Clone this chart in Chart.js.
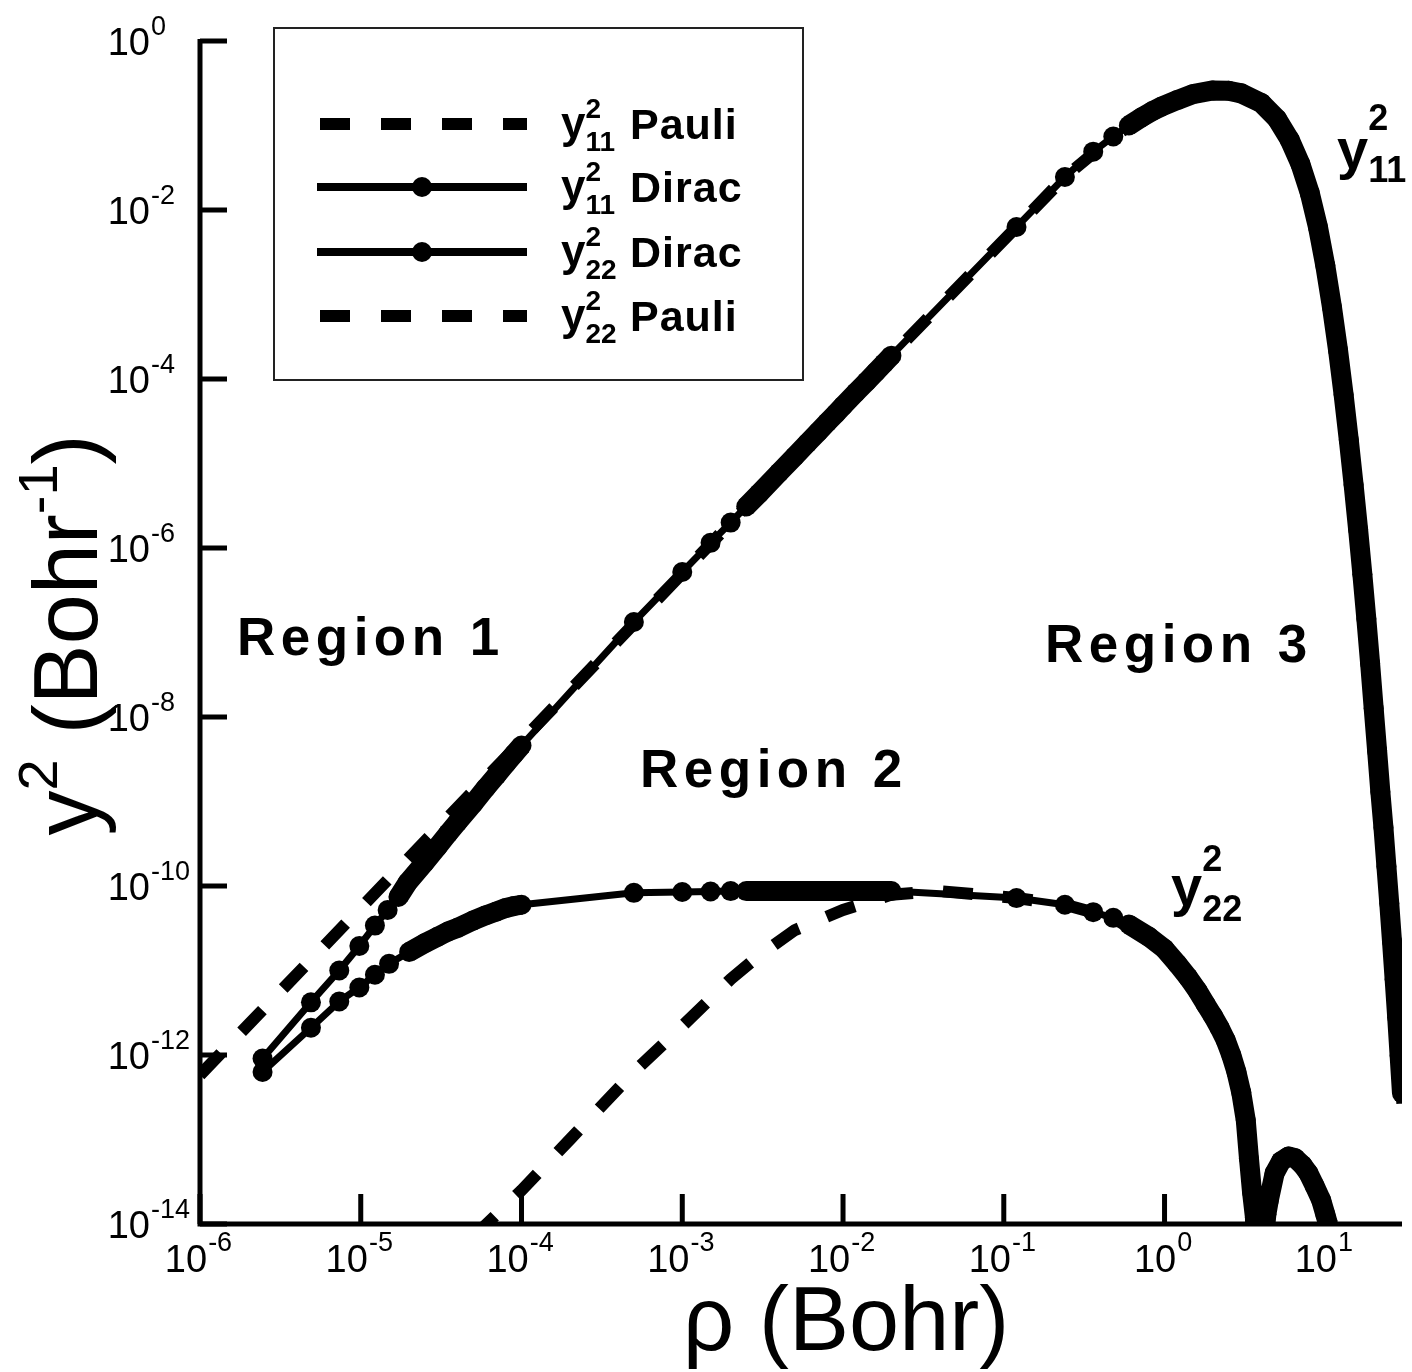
<!DOCTYPE html>
<html>
<head>
<meta charset="utf-8">
<script src="https://cdn.jsdelivr.net/npm/chart.js@4.4.0/dist/chart.umd.min.js"></script>
<style>
  body { margin: 0; background: #fff; }
  canvas { display: block; }
</style>
</head>
<body>
<canvas id="chart" width="1412" height="1372"></canvas>
<script>
// y11 Pauli (dashed)
const rho11Pauli = [1e-6, 1e-5, 1e-4, 1e-3, 1e-2, 0.12, 0.24, 0.48, 0.96, 2, 3, 5, 7, 10, 14, 20, 25, 31];
const val11Pauli = [5.8e-13, 5.5e-11, 5.2e-9, 5.0e-7, 4.9e-5, 6.3e-3, 2.46e-2, 7.4e-2, 0.168, 0.26, 0.24, 0.12, 0.035, 2.2e-3, 1.9e-5, 1.26e-8, 6.2e-11, 1.2e-13];

// y11 Dirac (line + markers)
const rho11Dirac = [2.45e-6, 4.9e-6, 7.35e-6, 9.8e-6, 1.225e-5, 1.47e-5, 1.715e-5, 1.96e-5, 2.5e-5, 3e-5, 3.5e-5, 4e-5, 5e-5, 6e-5, 7e-5, 8e-5, 9e-5, 1e-4,
  5e-4, 1e-3, 1.5e-3, 2e-3, 2.5e-3, 3e-3, 4e-3, 5e-3, 6e-3, 7e-3, 8e-3, 9e-3, 1e-2, 1.2e-2, 1.4e-2, 1.6e-2, 1.8e-2, 2e-2,
  0.12, 0.24, 0.36, 0.48, 0.6, 0.72, 0.84, 0.96, 1.2, 1.5, 2, 2.5, 3, 4, 5, 6, 7, 8, 9, 10,
  11, 12, 13, 14, 15, 16, 17, 18, 19, 20, 21, 22, 23, 24, 25, 26, 27, 28, 29, 30, 31];
const val11Dirac = [9.1e-13, 4.2e-12, 1.0e-11, 1.95e-11, 3.4e-11, 5.2e-11, 7.4e-11, 1.1e-10, 1.9e-10, 2.9e-10, 4.2e-10, 5.7e-10, 9.4e-10, 1.45e-9, 2.05e-9, 2.8e-9, 3.65e-9, 4.6e-9,
  1.33e-7, 5.2e-7, 1.15e-6, 2.0e-6, 3.1e-6, 4.4e-6, 7.8e-6, 1.21e-5, 1.74e-5, 2.36e-5, 3.08e-5, 3.88e-5, 4.8e-5, 6.9e-5, 9.3e-5, 1.21e-4, 1.53e-4, 1.89e-4,
  6.3e-3, 2.46e-2, 4.9e-2, 7.4e-2, 0.100, 0.125, 0.148, 0.168, 0.200, 0.235, 0.26, 0.258, 0.24, 0.185, 0.12, 0.068, 0.035, 0.016, 6.3e-3, 2.2e-3,
  7.1e-4, 2.2e-4, 6.5e-5, 1.9e-5, 5.6e-6, 1.66e-6, 4.9e-7, 1.45e-7, 4.3e-8, 1.26e-8, 4.0e-9, 1.3e-9, 4.9e-10, 1.7e-10, 6.2e-11, 2.2e-11, 7.8e-12, 2.8e-12, 9.8e-13, 3.5e-13, 1.2e-13];

// y22 Dirac (line + markers)
const rho22Dirac = [2.45e-6, 4.9e-6, 7.35e-6, 9.8e-6, 1.225e-5, 1.5e-5, 2e-5, 2.5e-5, 3e-5, 3.5e-5, 4e-5, 5e-5, 6e-5, 7e-5, 8e-5, 9e-5, 1e-4,
  5e-4, 1e-3, 1.5e-3, 2e-3, 2.5e-3, 3e-3, 4e-3, 5e-3, 6e-3, 7e-3, 8e-3, 9e-3, 1e-2, 1.2e-2, 1.4e-2, 1.6e-2, 1.8e-2, 2e-2,
  0.12, 0.24, 0.36, 0.48, 0.6, 0.8, 1.0, 1.2, 1.4, 1.6, 1.8, 2.0, 2.2, 2.4, 2.6, 2.8, 3.0, 3.2, 3.35, 3.5, 3.65, 3.85,
  4.1, 4.3, 4.45, 4.84, 5.3, 5.9, 6.5, 7.2, 7.85, 8.6, 9.44, 10.0, 10.4];
const val22Dirac = [6.3e-13, 2.1e-12, 4.3e-12, 6.3e-12, 8.9e-12, 1.2e-11, 1.66e-11, 2.1e-11, 2.5e-11, 2.9e-11, 3.2e-11, 3.9e-11, 4.5e-11, 5.0e-11, 5.5e-11, 5.8e-11, 6.0e-11,
  8.3e-11, 8.5e-11, 8.6e-11, 8.7e-11, 8.7e-11, 8.7e-11, 8.7e-11, 8.7e-11, 8.7e-11, 8.7e-11, 8.7e-11, 8.7e-11, 8.7e-11, 8.7e-11, 8.7e-11, 8.7e-11, 8.7e-11, 8.7e-11,
  7.2e-11, 6.0e-11, 4.9e-11, 4.2e-11, 3.5e-11, 2.5e-11, 1.8e-11, 1.2e-11, 8.3e-12, 5.8e-12, 4.0e-12, 2.9e-12, 2.1e-12, 1.5e-12, 1.0e-12, 6.3e-13, 3.6e-13, 1.7e-13, 6e-14, 2.4e-14, 1.2e-14, 1e-16,
  5e-15, 1.3e-14, 1.9e-14, 4.0e-14, 5.5e-14, 6.3e-14, 6.0e-14, 5.0e-14, 4.0e-14, 2.8e-14, 1.9e-14, 1.3e-14, 1.0e-14];

// y22 Pauli (dashed)
const rho22Pauli = [5e-5, 1e-4, 2e-4, 5e-4, 1e-3, 2e-3, 3e-3, 5e-3, 1e-2, 2e-2, 4e-2, 0.12, 0.24, 0.48, 1.0, 1.6, 2.2, 2.8, 3.2, 3.5];
const val22Pauli = [7e-15, 2.5e-14, 1e-13, 6.3e-13, 2.2e-12, 7.9e-12, 1.5e-11, 3.0e-11, 5.2e-11, 7.9e-11, 8.7e-11, 7.2e-11, 6.0e-11, 4.2e-11, 1.8e-11, 5.8e-12, 2.1e-12, 6.3e-13, 1.6e-13, 1.9e-14];

// Axis decades
const xTickExps = [-6, -5, -4, -3, -2, -1, 0, 1];
const yTickExps = [0, -2, -4, -6, -8, -10, -12, -14];

// rho ranges where the Dirac markers sit so close they merge into a thick band
const denseRanges = [[1.7e-5, 1.01e-4], [2.4e-3, 2.01e-2], [0.59, 40]];

// Legend rows (in dataset order)
const legendSubs = ['11', '11', '22', '22'];
const legendWords = ['Pauli', 'Dirac', 'Dirac', 'Pauli'];

const FONT = "'Liberation Sans', Arial, Helvetica, sans-serif";

function toPoints(xs, ys) {
    return xs.map((v, i) => ({ x: v, y: ys[i] }));
}

function denseWidth(ctx) {
    const a = ctx.p0.parsed.x, b = ctx.p1.parsed.x;
    return denseRanges.some(r => a >= r[0] && b <= r[1]) ? 20 : undefined;
}

// Draws "y" with a stacked superscript 2 and a subscript index
function drawY(ctx, x, base, sub, big, small, supBase, subBase) {
    ctx.textAlign = 'left';
    ctx.textBaseline = 'alphabetic';
    ctx.font = `bold ${big}px ${FONT}`;
    ctx.fillText('y', x, base);
    const sx = x + ctx.measureText('y').width;
    ctx.font = `bold ${small}px ${FONT}`;
    ctx.fillText('2', sx, supBase);
    ctx.fillText(sub, sx, subBase);
}

function drawLegend(ctx, chart) {
    ctx.fillStyle = '#fff';
    ctx.fillRect(274, 28, 529, 352);
    ctx.strokeStyle = '#222';
    ctx.lineWidth = 2;
    ctx.strokeRect(274, 28, 529, 352);

    chart.data.datasets.forEach((ds, i) => {
        const ry = [124, 187, 252, 316][i];
        ctx.strokeStyle = '#000';
        ctx.beginPath();
        if (ds.borderDash && ds.borderDash.length) {
            ctx.setLineDash([30, 31]);
            ctx.lineWidth = 12;
            ctx.moveTo(320, ry);
            ctx.lineTo(527, ry);
        } else {
            ctx.setLineDash([]);
            ctx.lineWidth = 8;
            ctx.moveTo(317, ry);
            ctx.lineTo(527, ry);
        }
        ctx.stroke();
        ctx.setLineDash([]);
        if (ds.pointRadius) {
            ctx.fillStyle = '#000';
            ctx.beginPath();
            ctx.arc(422, ry, 10, 0, Math.PI * 2);
            ctx.fill();
        }
        ctx.fillStyle = '#000';
        drawY(ctx, 561, ry + 14, legendSubs[i], 44, 28, ry - 6, ry + 27);
        ctx.font = `bold 43px ${FONT}`;
        if ('letterSpacing' in ctx) ctx.letterSpacing = '1px';
        ctx.fillText(legendWords[i], 630, ry + 15);
        if ('letterSpacing' in ctx) ctx.letterSpacing = '0px';
    });
}

const axisDecor = {
    id: 'axisDecor',
    afterDraw(chart) {
        const { ctx, chartArea: area, scales: { x, y } } = chart;
        ctx.save();
        ctx.fillStyle = '#000';
        ctx.strokeStyle = '#000';

        // axis lines
        ctx.lineWidth = 5;
        ctx.lineCap = 'butt';
        ctx.beginPath();
        ctx.moveTo(area.left, area.top - 2);
        ctx.lineTo(area.left, area.bottom + 2.5);
        ctx.moveTo(area.left - 2.5, area.bottom);
        ctx.lineTo(area.right, area.bottom);
        ctx.stroke();

        // inward ticks
        ctx.beginPath();
        yTickExps.forEach(e => {
            const py = y.getPixelForValue(Math.pow(10, e));
            ctx.moveTo(area.left, py);
            ctx.lineTo(area.left + 27, py);
        });
        xTickExps.forEach(e => {
            const px = x.getPixelForValue(Math.pow(10, e));
            ctx.moveTo(px, area.bottom);
            ctx.lineTo(px, area.bottom - 30);
        });
        ctx.stroke();

        // tick labels 10^n
        ctx.textBaseline = 'alphabetic';
        yTickExps.forEach(e => {
            const py = y.getPixelForValue(Math.pow(10, e));
            ctx.font = `38px ${FONT}`;
            ctx.textAlign = 'right';
            ctx.fillText('10', 150, py + 14);
            ctx.font = `27px ${FONT}`;
            ctx.textAlign = 'left';
            ctx.fillText(String(e), 151, py - 6);
        });
        xTickExps.forEach(e => {
            const px = x.getPixelForValue(Math.pow(10, e));
            ctx.font = `38px ${FONT}`;
            const w1 = ctx.measureText('10').width;
            ctx.font = `27px ${FONT}`;
            const w2 = ctx.measureText(String(e)).width;
            const x0 = px - (w1 + w2) / 2 - 2;
            ctx.textAlign = 'left';
            ctx.font = `38px ${FONT}`;
            ctx.fillText('10', x0, 1272);
            ctx.font = `27px ${FONT}`;
            ctx.fillText(String(e), x0 + w1 + 1, 1251);
        });

        // axis titles
        ctx.font = `90px ${FONT}`;
        ctx.textAlign = 'center';
        ctx.fillText('\u03c1 (Bohr)', 846, 1350);

        ctx.save();
        ctx.translate(97, 635);
        ctx.rotate(-Math.PI / 2);
        const parts = [['y', 90, 0], ['2', 56, -40], [' (Bohr', 90, 0], ['-1', 56, -40], [')', 90, 0]];
        let total = 0;
        parts.forEach(p => { ctx.font = `${p[1]}px ${FONT}`; total += ctx.measureText(p[0]).width; });
        let cx = -total / 2;
        ctx.textAlign = 'left';
        parts.forEach(p => {
            ctx.font = `${p[1]}px ${FONT}`;
            ctx.fillText(p[0], cx, p[2]);
            cx += ctx.measureText(p[0]).width;
        });
        ctx.restore();

        // region labels
        ctx.font = `bold 53px ${FONT}`;
        ctx.textAlign = 'left';
        if ('letterSpacing' in ctx) ctx.letterSpacing = '5.5px';
        ctx.fillText('Region 1', 237, 655);
        ctx.fillText('Region 2', 640, 787);
        ctx.fillText('Region 3', 1045, 662);
        if ('letterSpacing' in ctx) ctx.letterSpacing = '0px';

        // curve labels
        drawY(ctx, 1337, 168, '11', 56, 36, 130, 182);
        drawY(ctx, 1171, 905, '22', 56, 36, 871, 921);

        drawLegend(ctx, chart);
        ctx.restore();
    }
};

const ctx = document.getElementById('chart').getContext('2d');

new Chart(ctx, {
    type: 'line',
    data: {
        datasets: [
            {
                label: 'y11 Pauli',
                data: toPoints(rho11Pauli, val11Pauli),
                borderColor: '#000',
                borderWidth: 12,
                borderDash: [30, 30],
                pointRadius: 0,
                clip: 0
            },
            {
                label: 'y11 Dirac',
                data: toPoints(rho11Dirac, val11Dirac),
                borderColor: '#000',
                borderWidth: 7,
                pointRadius: 10,
                pointBackgroundColor: '#000',
                pointBorderWidth: 0,
                borderJoinStyle: 'round',
                segment: { borderWidth: denseWidth },
                clip: 0
            },
            {
                label: 'y22 Dirac',
                data: toPoints(rho22Dirac, val22Dirac),
                borderColor: '#000',
                borderWidth: 7,
                pointRadius: 10,
                pointBackgroundColor: '#000',
                pointBorderWidth: 0,
                borderJoinStyle: 'round',
                segment: { borderWidth: denseWidth },
                clip: 0
            },
            {
                label: 'y22 Pauli',
                data: toPoints(rho22Pauli, val22Pauli),
                borderColor: '#000',
                borderWidth: 12,
                borderDash: [30, 30],
                pointRadius: 0,
                clip: 0
            }
        ]
    },
    options: {
        responsive: false,
        animation: false,
        layout: { padding: { top: 41, left: 0, right: 0, bottom: 0 } },
        plugins: {
            legend: { display: false },
            tooltip: { enabled: false }
        },
        elements: { point: { hoverRadius: 10 } },
        scales: {
            x: {
                type: 'logarithmic',
                min: 1e-6,
                max: 30,
                grid: { display: false },
                border: { display: false },
                ticks: { display: false },
                afterFit: s => { s.height = 148; }
            },
            y: {
                type: 'logarithmic',
                min: 1e-14,
                max: 1,
                grid: { display: false },
                border: { display: false },
                ticks: { display: false },
                afterFit: s => { s.width = 200; }
            }
        }
    },
    plugins: [axisDecor]
});
</script>
</body>
</html>
